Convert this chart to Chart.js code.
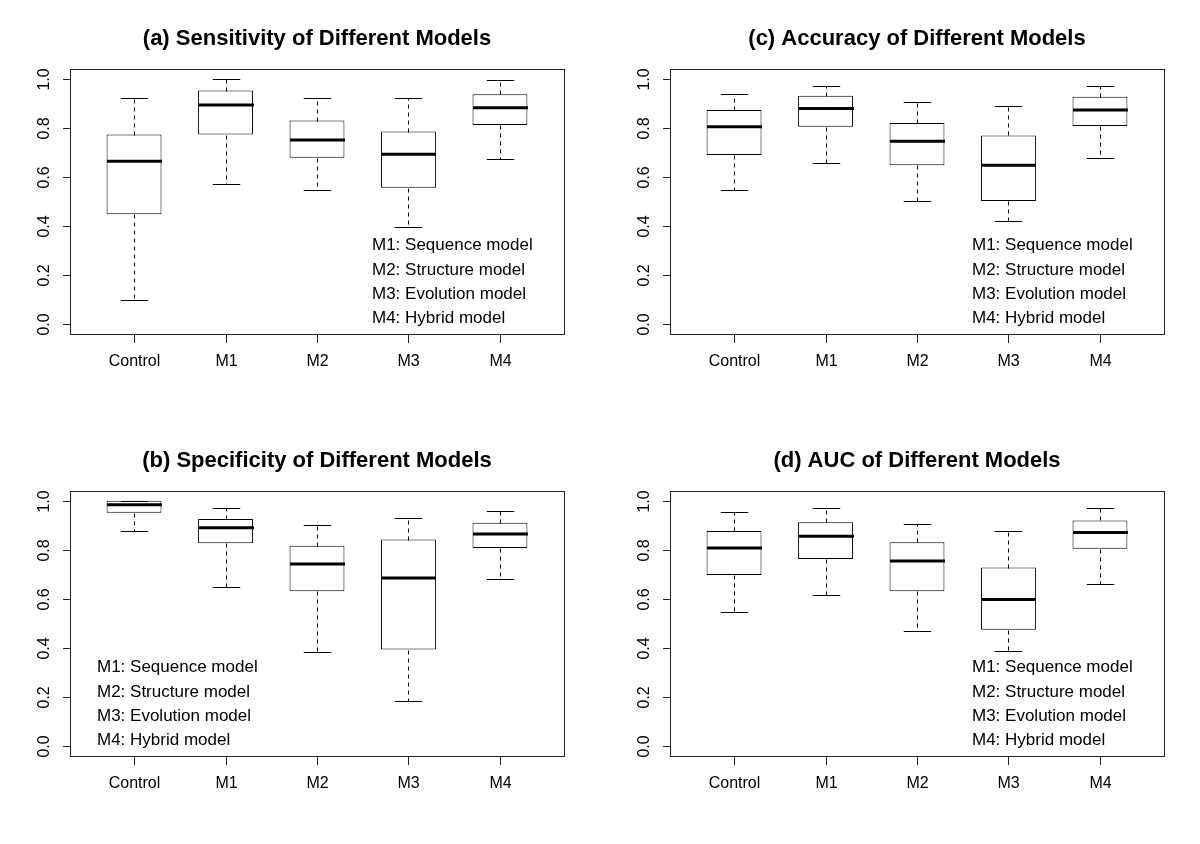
<!DOCTYPE html>
<html><head><meta charset="utf-8">
<script src="https://cdn.jsdelivr.net/npm/chart.js@4.4.1/dist/chart.umd.min.js"></script>
<style>
html,body{margin:0;padding:0;background:#fff;}
#wrap{position:relative;width:1200px;height:844px;background:#fff;}
.p{position:absolute;width:600px;height:422px;}
canvas{display:block;}
</style></head><body>
<div id="wrap">
<div class="p" style="left:0;top:0"><canvas id="ca" width="600" height="422"></canvas></div>
<div class="p" style="left:600px;top:0"><canvas id="cc" width="600" height="422"></canvas></div>
<div class="p" style="left:0;top:422px"><canvas id="cb" width="600" height="422"></canvas></div>
<div class="p" style="left:600px;top:422px"><canvas id="cd" width="600" height="422"></canvas></div>
</div>
<script>
const categories = ['Control', 'M1', 'M2', 'M3', 'M4'];
const yTicks = [0, 0.2, 0.4, 0.6, 0.8, 1.0];
const legendLines = ['M1: Sequence model', 'M2: Structure model', 'M3: Evolution model', 'M4: Hybrid model'];

// (a) Sensitivity
const sensLow  = [0.100, 0.570, 0.545, 0.395, 0.675];
const sensQ1   = [0.448, 0.773, 0.678, 0.556, 0.812];
const sensMed  = [0.664, 0.893, 0.751, 0.693, 0.882];
const sensQ3   = [0.773, 0.952, 0.830, 0.785, 0.937];
const sensHigh = [0.920, 1.000, 0.920, 0.920, 0.996];

// (b) Specificity
const specLow  = [0.875, 0.647, 0.383, 0.184, 0.683];
const specQ1   = [0.951, 0.827, 0.631, 0.394, 0.808];
const specMed  = [0.984, 0.890, 0.743, 0.685, 0.865];
const specQ3   = [1.000, 0.926, 0.817, 0.842, 0.911];
const specHigh = [1.000, 0.969, 0.901, 0.931, 0.958];

// (c) Accuracy
const accLow  = [0.548, 0.656, 0.502, 0.422, 0.679];
const accQ1   = [0.690, 0.805, 0.648, 0.502, 0.808];
const accMed  = [0.805, 0.879, 0.746, 0.648, 0.873];
const accQ3   = [0.873, 0.931, 0.820, 0.769, 0.927];
const accHigh = [0.940, 0.970, 0.905, 0.888, 0.970];

// (d) AUC
const aucLow  = [0.548, 0.616, 0.471, 0.386, 0.663];
const aucQ1   = [0.698, 0.763, 0.631, 0.475, 0.805];
const aucMed  = [0.808, 0.856, 0.755, 0.598, 0.871];
const aucQ3   = [0.877, 0.913, 0.831, 0.728, 0.920];
const aucHigh = [0.954, 0.969, 0.905, 0.877, 0.969];

const FONT = '"Liberation Sans", Arial, Helvetica, sans-serif';

const rPlot = {
  id: 'rplot',
  afterDatasetsDraw(chart, args, o) {
    const ctx = chart.ctx, a = chart.chartArea;
    const x = chart.scales.x, y = chart.scales.y;
    const meta = chart.getDatasetMeta(0);
    ctx.save();
    ctx.strokeStyle = '#000';
    ctx.fillStyle = '#000';
    meta.data.forEach((bar, i) => {
      const p = bar.getProps(['x', 'width'], true);
      const cx = Math.round(p.x) + 0.5;
      const half = p.width / 2;
      const cap = half / 2;
      const pLow = Math.round(y.getPixelForValue(o.low[i])) + 0.5;
      const pHigh = Math.round(y.getPixelForValue(o.high[i])) + 0.5;
      const pQ1 = Math.round(y.getPixelForValue(o.q1[i])) + 0.5;
      const pQ3 = Math.round(y.getPixelForValue(o.q3[i])) + 0.5;
      const pMed = y.getPixelForValue(o.med[i]);
      ctx.lineWidth = 1;
      ctx.setLineDash([4, 4]);
      ctx.beginPath();
      ctx.moveTo(cx, pQ3); ctx.lineTo(cx, pHigh);
      ctx.moveTo(cx, pQ1); ctx.lineTo(cx, pLow);
      ctx.stroke();
      ctx.setLineDash([]);
      ctx.beginPath();
      ctx.moveTo(cx - cap, pHigh); ctx.lineTo(cx + cap, pHigh);
      ctx.moveTo(cx - cap, pLow); ctx.lineTo(cx + cap, pLow);
      ctx.stroke();
      ctx.lineWidth = 3;
      ctx.beginPath();
      ctx.moveTo(cx - half, pMed); ctx.lineTo(cx + half, pMed);
      ctx.stroke();
    });
    // frame
    ctx.lineWidth = 1;
    ctx.strokeStyle = '#222';
    ctx.strokeRect(Math.round(a.left) + 0.5, Math.round(a.top) + 0.5, Math.round(a.width), Math.round(a.height));
    // y axis ticks & labels
    ctx.font = '16px ' + FONT;
    ctx.textAlign = 'center';
    ctx.textBaseline = 'middle';
    o.yTicks.forEach(v => {
      const py = Math.round(y.getPixelForValue(v)) + 0.5;
      ctx.beginPath();
      ctx.moveTo(a.left - 7, py); ctx.lineTo(a.left, py);
      ctx.stroke();
      ctx.save();
      ctx.translate(a.left - 25, py);
      ctx.rotate(-Math.PI / 2);
      ctx.fillText(v.toFixed(1), 0, 0);
      ctx.restore();
    });
    // x axis ticks & labels
    categories.forEach((c, i) => {
      const px = Math.round(x.getPixelForValue(i + 1)) + 0.5;
      ctx.beginPath();
      ctx.moveTo(px, a.bottom); ctx.lineTo(px, a.bottom + 9);
      ctx.stroke();
      ctx.fillText(c, px, a.bottom + 28);
    });
    // title
    ctx.font = 'bold 22px ' + FONT;
    ctx.fillText(o.title, (a.left + a.right) / 2, a.top - 30);
    // legend text
    ctx.font = '17px ' + FONT;
    ctx.textAlign = 'left';
    o.legend.forEach((t, k) => {
      ctx.fillText(t, o.legendX, 245.7 + k * 24.3);
    });
    ctx.restore();
  }
};

function makePanel(id, title, low, q1, med, q3, high, legendX) {
  return new Chart(document.getElementById(id), {
    type: 'bar',
    data: {
      labels: categories,
      datasets: [{
        label: title,
        data: categories.map((c, i) => ({ x: i + 1, y: [q1[i], q3[i]] })),
        backgroundColor: '#ffffff',
        borderColor: '#000000',
        borderWidth: 1,
        borderSkipped: false,
        barPercentage: 0.75,
        categoryPercentage: 0.8
      }]
    },
    options: {
      responsive: false,
      animation: false,
      events: [],
      layout: { padding: { left: 70, right: 36, top: 69, bottom: 88 } },
      scales: {
        x: {
          type: 'linear', display: false, offset: false, min: 0.3, max: 5.7,
          grid: { offset: false },
          afterBuildTicks: s => { s.ticks = categories.map((c, i) => ({ value: i + 1 })); }
        },
        y: { type: 'linear', display: false, min: -0.04, max: 1.04 }
      },
      plugins: {
        legend: { display: false },
        tooltip: { enabled: false },
        title: { display: false },
        rplot: { low, q1, med, q3, high, title, legendX, legend: legendLines, yTicks }
      }
    },
    plugins: [rPlot]
  });
}

makePanel('ca', '(a) Sensitivity of Different Models', sensLow, sensQ1, sensMed, sensQ3, sensHigh, 372);
makePanel('cc', '(c) Accuracy of Different Models', accLow, accQ1, accMed, accQ3, accHigh, 372);
makePanel('cb', '(b) Specificity of Different Models', specLow, specQ1, specMed, specQ3, specHigh, 97);
makePanel('cd', '(d) AUC of Different Models', aucLow, aucQ1, aucMed, aucQ3, aucHigh, 372);
</script>
</body></html>
